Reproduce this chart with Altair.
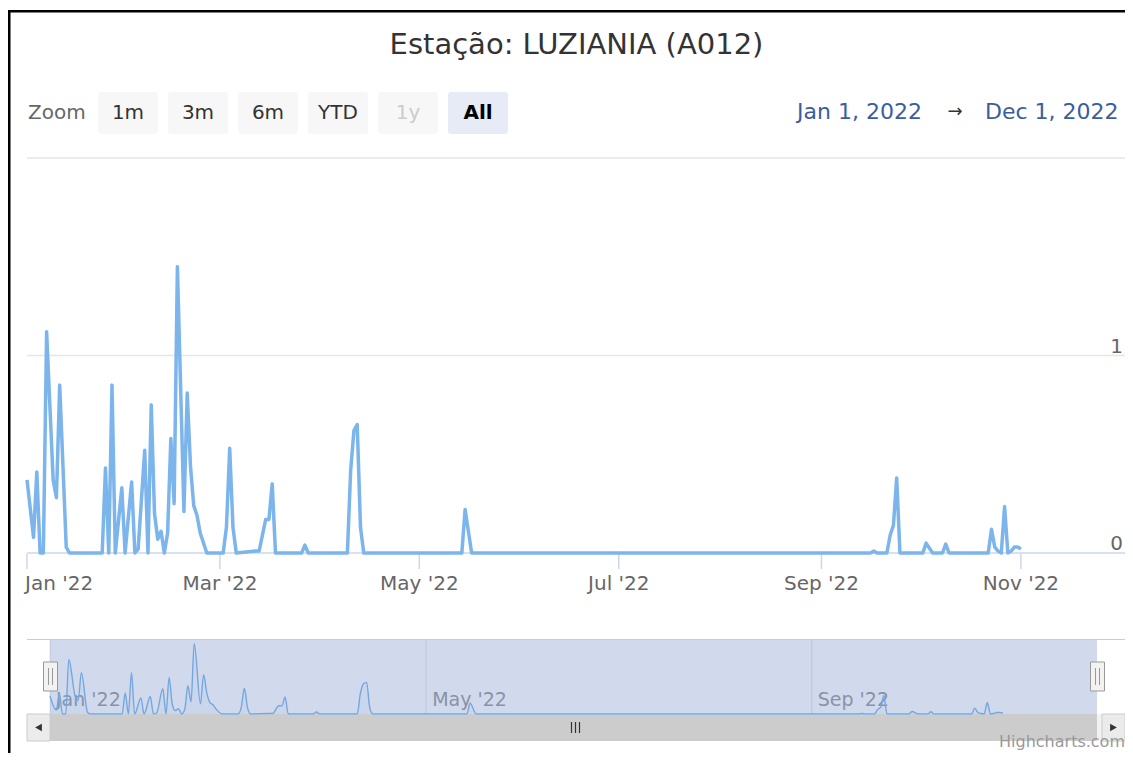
import altair as alt
import pandas as pd

# ---------------- data ----------------
TITLE = "Estação: LUZIANIA (A012)"

DATES = [
    "2022-01-01", "2022-01-03", "2022-01-04", "2022-01-05", "2022-01-06", "2022-01-07",
    "2022-01-09", "2022-01-10", "2022-01-11", "2022-01-13", "2022-01-14", "2022-01-24",
    "2022-01-25", "2022-01-26", "2022-01-27", "2022-01-28", "2022-01-30", "2022-01-31",
    "2022-02-02", "2022-02-03", "2022-02-04", "2022-02-06", "2022-02-07", "2022-02-08",
    "2022-02-09", "2022-02-10", "2022-02-11", "2022-02-12", "2022-02-13", "2022-02-14",
    "2022-02-15", "2022-02-16", "2022-02-18", "2022-02-19", "2022-02-20", "2022-02-21",
    "2022-02-22", "2022-02-23", "2022-02-25", "2022-03-02", "2022-03-03", "2022-03-04",
    "2022-03-05", "2022-03-06", "2022-03-12", "2022-03-13", "2022-03-15", "2022-03-16",
    "2022-03-17", "2022-03-18", "2022-03-26", "2022-03-27", "2022-03-28", "2022-04-09",
    "2022-04-10", "2022-04-11", "2022-04-12", "2022-04-13", "2022-04-14", "2022-05-14",
    "2022-05-15", "2022-05-17", "2022-09-16", "2022-09-17", "2022-09-18", "2022-09-21",
    "2022-09-22", "2022-09-23", "2022-09-24", "2022-09-25", "2022-10-02", "2022-10-03",
    "2022-10-05", "2022-10-08", "2022-10-09", "2022-10-10", "2022-10-22", "2022-10-23",
    "2022-10-24", "2022-10-25", "2022-10-26", "2022-10-27", "2022-10-28", "2022-10-29",
    "2022-10-30", "2022-10-31", "2022-11-01",
]
VALUES = [
    0.37, 0.08, 0.41, 0.0, 0.0, 1.12,
    0.37, 0.28, 0.85, 0.03, 0.0, 0.0,
    0.43, 0.0, 0.85, 0.0, 0.33, 0.0,
    0.36, 0.0, 0.02, 0.52, 0.0, 0.75,
    0.20, 0.07, 0.11, 0.0, 0.10, 0.58,
    0.25, 1.45, 0.21, 0.81, 0.44, 0.24,
    0.19, 0.10, 0.0, 0.0, 0.13, 0.53,
    0.13, 0.0, 0.01, 0.01, 0.17, 0.17,
    0.35, 0.0, 0.0, 0.04, 0.0, 0.0,
    0.42, 0.62, 0.65, 0.13, 0.0, 0.0,
    0.22, 0.0, 0.0, 0.01, 0.0, 0.0,
    0.09, 0.14, 0.38, 0.0, 0.0, 0.05,
    0.0, 0.0, 0.045, 0.0, 0.0, 0.12,
    0.03, 0.01, 0.0, 0.235, 0.0, 0.01,
    0.03, 0.03, 0.02,
]

MAIN_TICKS = ["2022-01-01", "2022-03-01", "2022-05-01", "2022-07-01", "2022-09-01", "2022-11-01"]
MAIN_TICK_LABELS = ["Jan '22", "Mar '22", "May '22", "Jul '22", "Sep '22", "Nov '22"]
NAV_TICKS = ["2022-01-01", "2022-05-01", "2022-09-01"]
NAV_TICK_LABELS = ["Jan '22", "May '22", "Sep '22"]
Y_GRID_VALUES = [1, 2]
Y_LABEL_VALUES = [0, 1]
Y_LABEL_TEXTS = ["0", "1"]

ZOOM_LABEL = "Zoom"
BUTTONS = ["1m", "3m", "6m", "YTD", "1y", "All"]
SELECTED_BUTTON = "All"
DISABLED_BUTTON = "1y"
RANGE_START = "2022-01-01"
RANGE_END = "2022-12-01"
RANGE_START_TEXT = "Jan 1, 2022"
RANGE_END_TEXT = "Dec 1, 2022"
RANGE_ARROW = "→"
CREDITS = "Highcharts.com"

# ---------------- styling ----------------
FONT = "DejaVu Sans"
W, H = 1117, 745
LINE = "#7cb5ec"

series = pd.DataFrame({"date": DATES, "value": VALUES})


def utc(s):
    y, m, d = map(int, s.split("-"))
    return alt.DateTime(year=y, month=m, date=d, utc=True)


x_main = alt.Scale(type="utc", domain=[utc(RANGE_START), utc(RANGE_END)], range=[19, 1111], nice=False)
y_main = alt.Scale(domain=[0, 2], range=[545, 150], nice=False, zero=False)
x_nav = alt.Scale(type="utc", domain=[utc(RANGE_START), utc(RANGE_END)], range=[42, 1089], nice=False)
y_nav = alt.Scale(domain=[0, 1.5], range=[706, 633], nice=False, zero=False)

ONE = pd.DataFrame({"a": [0]})


def box(x0, x1, y0, y1, fill, stroke=None, sw=1, radius=0):
    kw = dict(fill=fill)
    if stroke:
        kw.update(stroke=stroke, strokeWidth=sw)
    if radius:
        kw.update(cornerRadius=radius)
    return alt.Chart(ONE).mark_rect(**kw).encode(
        x=alt.value(x0), x2=alt.value(x1), y=alt.value(y0), y2=alt.value(y1)
    )


def label(text, x, y, size, color, align="left", baseline="middle", weight="normal"):
    return alt.Chart(pd.DataFrame({"t": [text]})).mark_text(
        font=FONT, fontSize=size, color=color, align=align, baseline=baseline, fontWeight=weight
    ).encode(x=alt.value(x), y=alt.value(y), text="t:N")


def hline(x0, x1, y, color, sw=1):
    return alt.Chart(ONE).mark_rule(color=color, strokeWidth=sw).encode(
        x=alt.value(x0), x2=alt.value(x1), y=alt.value(y)
    )


def vline(x, y0, y1, color, sw=1):
    return alt.Chart(ONE).mark_rule(color=color, strokeWidth=sw).encode(
        x=alt.value(x), y=alt.value(y0), y2=alt.value(y1)
    )


# ---------------- chrome (background) ----------------
btn = pd.DataFrame({"label": BUTTONS})
btn["x0"] = [90 + 70 * i for i in range(len(BUTTONS))]
btn["x1"] = btn["x0"] + 60
btn["xc"] = btn["x0"] + 30
btn["fill"] = ["#e6ebf5" if b == SELECTED_BUTTON else "#f7f7f7" for b in BUTTONS]
btn["ink"] = ["#cccccc" if b == DISABLED_BUTTON else "#333333" for b in BUTTONS]

btn_rects = alt.Chart(btn).mark_rect(cornerRadius=3).encode(
    x=alt.X("x0:Q", scale=None), x2="x1:Q",
    y=alt.value(84), y2=alt.value(126),
    color=alt.Color("fill:N", scale=None),
)
btn_text = alt.Chart(btn).transform_filter(
    alt.datum.label != SELECTED_BUTTON
).mark_text(font=FONT, fontSize=20, baseline="middle").encode(
    x=alt.X("xc:Q", scale=None), y=alt.value(105), text="label:N",
    color=alt.Color("ink:N", scale=None),
)
btn_sel = alt.Chart(btn).transform_filter(
    alt.datum.label == SELECTED_BUTTON
).mark_text(font=FONT, fontSize=20, baseline="middle", fontWeight="bold", color="#000000").encode(
    x=alt.X("xc:Q", scale=None), y=alt.value(105), text="label:N",
)

chrome_back = alt.layer(
    box(0, W, 2, 4.5, "#000000"),
    box(0, 2.5, 2, H, "#000000"),
    label(TITLE, 568.5, 46, 29, "#333333", align="center", baseline="alphabetic"),
    label(ZOOM_LABEL, 20, 105, 20, "#666666"),
    btn_rects, btn_text, btn_sel,
    label(RANGE_START_TEXT, 789, 104, 22, "#3a5d9f"),
    label(RANGE_ARROW, 947, 104, 18, "#333333", align="center"),
    label(RANGE_END_TEXT, 977, 104, 22, "#3a5d9f"),
    # navigator outline
    hline(19, 1117, 631.5, "#cccccc"),
    # scrollbar
    box(19, 1117, 706, 733, "#f2f2f2"),
    box(42, 1089, 706, 733, "#cccccc"),
    box(19, 42, 706, 733, "#ebebeb", stroke="#cccccc"),
    box(1094, 1117, 706, 733, "#ebebeb", stroke="#cccccc"),
    alt.Chart(ONE).mark_point(shape="triangle-left", filled=True, size=60, color="#333333", opacity=1).encode(
        x=alt.value(30.5), y=alt.value(719.5)),
    alt.Chart(ONE).mark_point(shape="triangle-right", filled=True, size=60, color="#333333", opacity=1).encode(
        x=alt.value(1105.5), y=alt.value(719.5)),
    vline(563.5, 714, 725, "#333333", 1.2),
    vline(567.5, 714, 725, "#333333", 1.2),
    vline(571.5, 714, 725, "#333333", 1.2),
    label(CREDITS, 1117, 739, 16, "#999999", align="right", baseline="alphabetic"),
)

# ---------------- main chart ----------------
grid_df = pd.DataFrame({"v": Y_GRID_VALUES})
ylab_df = pd.DataFrame({"v": Y_LABEL_VALUES, "t": Y_LABEL_TEXTS})
tick_df = pd.DataFrame({"d": MAIN_TICKS, "t": MAIN_TICK_LABELS})

main_grid = alt.Chart(grid_df).mark_rule(color="#e6e6e6", strokeWidth=1.3).encode(
    y=alt.Y("v:Q", scale=y_main, axis=None), x=alt.value(19), x2=alt.value(1117)
)
main_axis = alt.Chart(pd.DataFrame({"v": [0]})).mark_rule(color="#ccd6eb", strokeWidth=1.5).encode(
    y=alt.Y("v:Q", scale=y_main, axis=None), x=alt.value(19), x2=alt.value(1117)
)
main_ticks = alt.Chart(tick_df).mark_rule(color="#ccd6eb", strokeWidth=1.5).encode(
    x=alt.X("d:T", scale=x_main, axis=None), y=alt.value(546), y2=alt.value(561)
)
first_lab = alt.Chart(tick_df.iloc[:1]).mark_text(
    font=FONT, fontSize=20, color="#666666", align="left", baseline="alphabetic", dx=-2
).encode(x=alt.X("d:T", scale=x_main, axis=None), y=alt.value(582), text="t:N")
other_lab = alt.Chart(tick_df.iloc[1:]).mark_text(
    font=FONT, fontSize=20, color="#666666", align="center", baseline="alphabetic"
).encode(x=alt.X("d:T", scale=x_main, axis=None), y=alt.value(582), text="t:N")
y_labels = alt.Chart(ylab_df).mark_text(
    font=FONT, fontSize=20, color="#666666", align="right", baseline="alphabetic", dy=-3
).encode(y=alt.Y("v:Q", scale=y_main, axis=None), x=alt.value(1115), text="t:N")
main_line = alt.Chart(series).mark_line(color=LINE, strokeWidth=3.5, strokeJoin="round").encode(
    x=alt.X("date:T", scale=x_main, axis=None),
    y=alt.Y("value:Q", scale=y_main, axis=None),
)

main = alt.layer(main_grid, main_axis, main_ticks, first_lab, other_lab, y_labels, main_line)

# ---------------- navigator ----------------
nav_tick_df = pd.DataFrame({"d": NAV_TICKS, "t": NAV_TICK_LABELS})
mask_df = pd.DataFrame({"s": [RANGE_START], "e": [RANGE_END]})

nav_grid = alt.Chart(nav_tick_df).mark_rule(color="#e6e6e6", strokeWidth=1.2).encode(
    x=alt.X("d:T", scale=x_nav, axis=None), y=alt.value(632), y2=alt.value(706)
)
nav_labels = alt.Chart(nav_tick_df).mark_text(
    font=FONT, fontSize=19, color="#999999", align="left", baseline="alphabetic", dx=6
).encode(x=alt.X("d:T", scale=x_nav, axis=None), y=alt.value(698), text="t:N")
nav_area = alt.Chart(series).mark_area(interpolate="monotone", color=LINE, opacity=0.08).encode(
    x=alt.X("date:T", scale=x_nav, axis=None),
    y=alt.Y("value:Q", scale=y_nav, axis=None),
)
nav_line = alt.Chart(series).mark_line(interpolate="monotone", color=LINE, strokeWidth=1.4).encode(
    x=alt.X("date:T", scale=x_nav, axis=None),
    y=alt.Y("value:Q", scale=y_nav, axis=None),
)
nav_mask = alt.Chart(mask_df).mark_rect(color="#6685c2", opacity=0.3).encode(
    x=alt.X("s:T", scale=x_nav, axis=None), x2="e:T", y=alt.value(632), y2=alt.value(706)
)

nav = alt.layer(nav_grid, nav_labels, nav_area, nav_line, nav_mask)

# ---------------- chrome (front): navigator handles ----------------
handles = alt.layer(
    box(35.5, 49.5, 654, 683, "#f2f2f2", stroke="#999999"),
    vline(40.5, 660, 677, "#999999"),
    vline(44.5, 660, 677, "#999999"),
    box(1082.5, 1096.5, 654, 683, "#f2f2f2", stroke="#999999"),
    vline(1087.5, 660, 677, "#999999"),
    vline(1091.5, 660, 677, "#999999"),
)

chart = alt.layer(chrome_back, main, nav, handles).resolve_scale(
    x="independent", y="independent"
).properties(
    width=W, height=H, padding=0, autosize=alt.AutoSizeParams(type="none"), background="#ffffff"
).configure_view(strokeWidth=0)

chart.save("out.html", embed_options={"renderer": "svg", "actions": False})
